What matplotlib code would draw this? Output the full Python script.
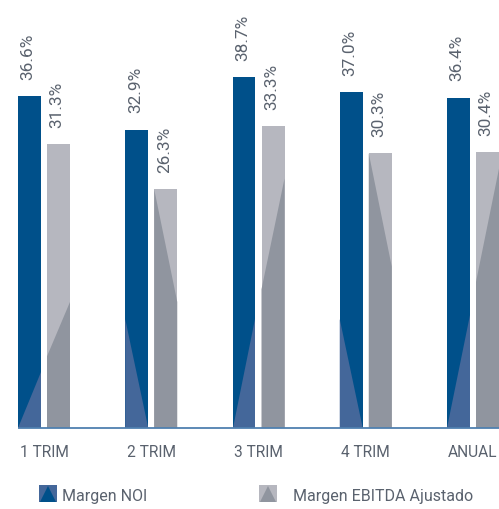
import matplotlib
matplotlib.use("Agg")
import matplotlib.pyplot as plt
from matplotlib.patches import Polygon, Rectangle
from matplotlib import transforms

categories = ["1 TRIM", "2 TRIM", "3 TRIM", "4 TRIM", "ANUAL"]
margen_noi = [36.6, 32.9, 38.7, 37.0, 36.4]
margen_ebitda = [31.3, 26.3, 33.3, 30.3, 30.4]
legend_labels = ["Margen NOI", "Margen EBITDA Ajustado"]

# decorative diagonal shading (in % units)
noi_shade_side = ["right", "left", "right", "left", "right"]
noi_shade_h = [6.2, 12.0, 12.0, 12.0, 12.5]
ebitda_dark_left = [7.9, None, 15.3, None, 16.1]   # None -> bar top
ebitda_dark_right = [13.9, 13.9, 27.5, 17.8, 28.6]

BLUE = "#00508a"
BLUE_L = "#44679a"
GRAY_L = "#b6b7bf"
GRAY_D = "#90959f"
TXT = "#5a626e"
AXIS = "#4f80b0"

FONT = ["Roboto", "DejaVu Sans"]
plt.rcParams["font.family"] = FONT

W, H = 499, 510
fig = plt.figure(figsize=(W / 100, H / 100), dpi=100)
base_px = 429
ax = fig.add_axes([0, (H - base_px) / H, 1, base_px / H])
px_per_pct = 9.07
ax.set_ylim(0, base_px / px_per_pct)
spacing = 107.25
ax.set_xlim(-44 / spacing, (W - 44) / spacing)
ax.axis("off")

bw = 23 / spacing
off = 14.5 / spacing
xs = list(range(len(categories)))

for i, x in enumerate(xs):
    # NOI bar
    h = margen_noi[i]
    L, R = x - off - bw / 2, x - off + bw / 2
    ax.bar(x - off, h, width=bw, color=BLUE, zorder=2)
    sh = noi_shade_h[i]
    if noi_shade_side[i] == "right":
        pts = [(L, 0), (R, 0), (R, sh)]
    else:
        pts = [(L, 0), (L, sh), (R, 0)]
    ax.add_patch(Polygon(pts, closed=True, color=BLUE_L, lw=0, zorder=3))
    ax.annotate(f"{h:.1f}%", (x - off, h), xytext=(-1, 12.5), textcoords="offset points",
                rotation=90, ha="center", va="bottom", fontsize=12.4, color=TXT)

    # EBITDA bar
    g = margen_ebitda[i]
    L, R = x + off - bw / 2, x + off + bw / 2
    ax.bar(x + off, g, width=bw, color=GRAY_L, zorder=2)
    dl = ebitda_dark_left[i] if ebitda_dark_left[i] is not None else g
    dr = ebitda_dark_right[i]
    ax.add_patch(Polygon([(L, 0), (R, 0), (R, dr), (L, dl)], closed=True,
                         color=GRAY_D, lw=0, zorder=3))
    ax.annotate(f"{g:.1f}%", (x + off, g), xytext=(-1, 12.5), textcoords="offset points",
                rotation=90, ha="center", va="bottom", fontsize=12.4, color=TXT)

# baseline
ax.plot([xs[0] - off - bw / 2, ax.get_xlim()[1]], [0, 0], color=AXIS, lw=1.3,
        zorder=4, clip_on=False, solid_capstyle="butt")

# category labels
trans = transforms.blended_transform_factory(ax.transData, fig.transFigure)
for x, c in zip(xs, categories):
    ax.text(x, (H - 457) / H, c, transform=trans, ha="center", va="baseline",
            fontsize=11.2, color=TXT, clip_on=False)

# legend
def px2fig(px, py):
    return px / W, (H - py) / H

def legend_marker(x0, y0, w, h, bg, fg):
    fx, fy = px2fig(x0, y0 + h)
    fig.patches.append(Rectangle((fx, fy), w / W, h / H, transform=fig.transFigure,
                                 color=bg, lw=0))
    tri = [px2fig(x0 + 1, y0 + h), px2fig(x0 + w - 1, y0 + h), px2fig(x0 + w / 2, y0 + 1)]
    fig.patches.append(Polygon(tri, closed=True, transform=fig.transFigure, color=fg, lw=0))

legend_marker(39, 486, 18, 17, BLUE_L, BLUE)
legend_marker(259, 486, 18, 17, GRAY_L, GRAY_D)
fig.text(*px2fig(62, 501), legend_labels[0], ha="left", va="baseline", fontsize=11.5,
         color=TXT)
fig.text(*px2fig(293, 501), legend_labels[1], ha="left", va="baseline", fontsize=11.5,
         color=TXT)

fig.savefig("out.png", dpi=100)
